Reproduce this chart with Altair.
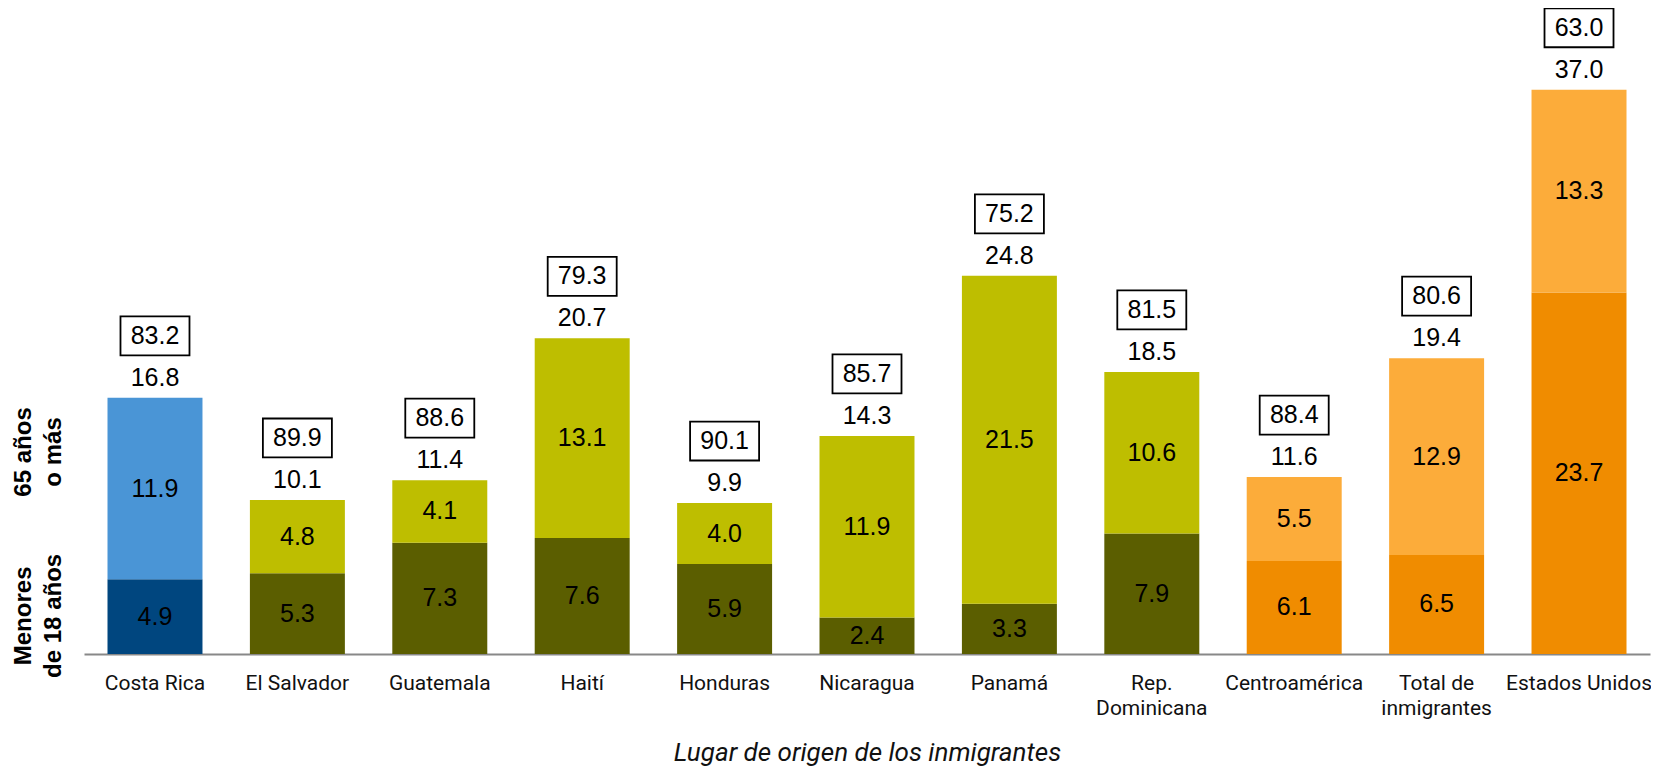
import altair as alt
import pandas as pd

countries = ["Costa Rica", "El Salvador", "Guatemala", "Haití", "Honduras", "Nicaragua",
             "Panamá", "Rep. Dominicana", "Centroamérica", "Total de inmigrantes", "Estados Unidos"]
menores = [4.9, 5.3, 7.3, 7.6, 5.9, 2.4, 3.3, 7.9, 6.1, 6.5, 23.7]
mayores = [11.9, 4.8, 4.1, 13.1, 4.0, 11.9, 21.5, 10.6, 5.5, 12.9, 13.3]
totales = [16.8, 10.1, 11.4, 20.7, 9.9, 14.3, 24.8, 18.5, 11.6, 19.4, 37.0]
resto = [83.2, 89.9, 88.6, 79.3, 90.1, 85.7, 75.2, 81.5, 88.4, 80.6, 63.0]
grupo = ["cr", "pais", "pais", "pais", "pais", "pais", "pais", "pais", "agg", "agg", "agg"]

dark = {"cr": "#00467F", "pais": "#5B5E00", "agg": "#F08C00"}
light = {"cr": "#4A95D6", "pais": "#BEBE00", "agg": "#FCAC3A"}

rows = []
for c, m, o, g in zip(countries, menores, mayores, grupo):
    rows.append({"country": c, "seg": "Menores de 18 años", "start": 0.0, "end": m,
                 "mid": m / 2, "value": m, "color": dark[g]})
    rows.append({"country": c, "seg": "65 años o más", "start": m, "end": m + o,
                 "mid": m + o / 2, "value": o, "color": light[g]})
bars_df = pd.DataFrame(rows)
bars_df["lab"] = bars_df["value"].map(lambda v: f"{v:.1f}")

tot_df = pd.DataFrame({"country": countries, "total": totales, "resto": resto})
tot_df["tlab"] = tot_df["total"].map(lambda v: f"{v:.1f}")
tot_df["rlab"] = tot_df["resto"].map(lambda v: f"{v:.1f}")

side_labels = [["Menores", "de 18 años"], ["65 años", "o más"]]
side_pos = [2.5, 13.25]
side_df = pd.DataFrame({"lbl": side_labels, "pos": side_pos})

label_expr = ("datum.label == 'Rep. Dominicana' ? ['Rep.', 'Dominicana'] : "
              "datum.label == 'Total de inmigrantes' ? ['Total de', 'inmigrantes'] : datum.label")

xenc = alt.X("country:N", sort=countries,
             scale=alt.Scale(paddingInner=0.333, paddingOuter=0.165),
             axis=alt.Axis(title="Lugar de origen de los inmigrantes", labelAngle=0,
                           labelExpr=label_expr, labelFont="Roboto", labelFontSize=21,
                           labelColor="#111", labelLineHeight=25, labelPadding=18,
                           ticks=False, domainColor="#888888", domainWidth=2,
                           titleFont="Roboto", titleFontSize=26, titleFontStyle="italic",
                           titleFontWeight="normal", titleColor="#111", titlePadding=21))
yscale = alt.Scale(domain=[0, 40], nice=False, zero=True)

bars = alt.Chart(bars_df).mark_bar().encode(
    x=xenc,
    y=alt.Y("start:Q", scale=yscale, axis=None),
    y2="end:Q",
    color=alt.Color("color:N", scale=None),
)

seg_text = alt.Chart(bars_df).mark_text(font="Liberation Sans", fontSize=25, color="#000",
                                        baseline="middle").encode(
    x=alt.X("country:N", sort=countries),
    y=alt.Y("mid:Q", scale=yscale),
    text="lab:N",
)

tot_text = alt.Chart(tot_df).mark_text(font="Liberation Sans", fontSize=25, color="#000",
                                       baseline="middle", dy=-20).encode(
    x=alt.X("country:N", sort=countries),
    y=alt.Y("total:Q", scale=yscale),
    text="tlab:N",
)

boxes = alt.Chart(tot_df).mark_point(
    shape="M-1,-0.565L1,-0.565L1,0.565L-1,0.565Z", size=4761, filled=False,
    stroke="#000", strokeWidth=1.8, opacity=1, yOffset=-62).encode(
    x=alt.X("country:N", sort=countries),
    y=alt.Y("total:Q", scale=yscale),
)

box_text = alt.Chart(tot_df).mark_text(font="Liberation Sans", fontSize=25, color="#000",
                                       baseline="middle", dy=-62).encode(
    x=alt.X("country:N", sort=countries),
    y=alt.Y("total:Q", scale=yscale),
    text="rlab:N",
)

side = alt.Chart(side_df).mark_text(font="Liberation Sans", fontSize=24, fontWeight="bold",
                                    color="#000", angle=270, align="center",
                                    baseline="middle", lineHeight=30).encode(
    x=alt.value(-60),
    y=alt.Y("pos:Q", scale=yscale),
    text="lbl",
)

chart = alt.layer(bars, seg_text, tot_text, boxes, box_text, side).properties(
    width=1566, height=610,
    autosize=alt.AutoSizeParams(type="none"),
    padding={"left": 76, "top": 36, "right": 1, "bottom": 112},
).configure_view(stroke=None).configure_axis(grid=False)

chart.save("out.html", embed_options={"renderer": "svg", "actions": False})
